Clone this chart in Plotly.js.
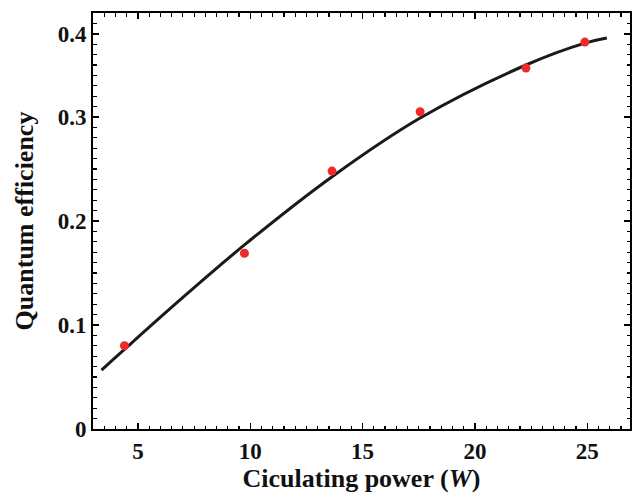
<!DOCTYPE html>
<html><head><meta charset="utf-8">
<script src="https://cdn.plot.ly/plotly-3.0.1.min.js"></script>
<style>html,body{margin:0;padding:0;background:#fff;}#chart{width:633px;height:493px;}</style>
</head><body><div id="chart"></div>
<script>
// measured points
const powerPts = [4.40, 9.74, 13.64, 17.56, 22.27, 24.89];
const qePts = [0.080, 0.169, 0.248, 0.305, 0.347, 0.372];
// fitted curve
const powerFit = [3.38, 4.40, 7.0, 9.74, 13.64, 17.56, 22.27, 24.89, 25.87];
const qeFit = [0.0567, 0.0766, 0.1265, 0.177, 0.2426, 0.299, 0.350, 0.371, 0.376];
// y tick labels (the "0.4" label sits at the 0.38 position in the original)
const yTickVals = [0, 0.1, 0.2, 0.3, 0.38];
const yTickText = ['0', '0.1', '0.2', '0.3', '0.4'];
const xTickVals = [5, 10, 15, 20, 25];

const fam = '"Liberation Serif", "Times New Roman", serif';
const data = [
  {x: powerFit, y: qeFit, mode: 'lines', line: {color: '#1a1a1a', width: 3, shape: 'spline', smoothing: 1}, hoverinfo: 'skip'},
  {x: powerPts, y: qePts, mode: 'markers', marker: {color: '#ee2b2b', size: 9}}
];
const axisCommon = {showline: true, linecolor: '#000', linewidth: 2, mirror: 'allticks', ticks: 'inside', ticklen: 6, tickwidth: 1.5, tickcolor: '#000', showgrid: false, zeroline: false,
  tickfont: {family: fam, size: 23, color: '#111', weight: 'bold'}};
const layout = {
  width: 633, height: 493, margin: {l: 93, r: 3, t: 13, b: 64},
  paper_bgcolor: '#fff', plot_bgcolor: '#fff', showlegend: false, font: {family: fam, color: '#111'},
  xaxis: Object.assign({}, axisCommon, {range: [3, 26.9], tickmode: 'array', tickvals: xTickVals,
    minor: {tickmode: 'linear', tick0: 0, dtick: 0.5, ticks: 'inside', ticklen: 3.5, tickwidth: 1.2, tickcolor: '#000'},
    title: {text: '<b>Ciculating power (<i>W</i>)</b>', font: {family: fam, size: 26, color: '#111'}, standoff: 4}}),
  yaxis: Object.assign({}, axisCommon, {range: [0, 0.4], tickmode: 'array', tickvals: yTickVals, ticktext: yTickText,
    minor: {tickmode: 'linear', tick0: 0, dtick: 0.01, ticks: 'inside', ticklen: 3.5, tickwidth: 1.2, tickcolor: '#000'},
    title: {text: '<b>Quantum efficiency</b>', font: {family: fam, size: 26, color: '#111'}, standoff: 17}})
};
Plotly.newPlot('chart', data, layout, {displayModeBar: false, staticPlot: true});
</script></body></html>
